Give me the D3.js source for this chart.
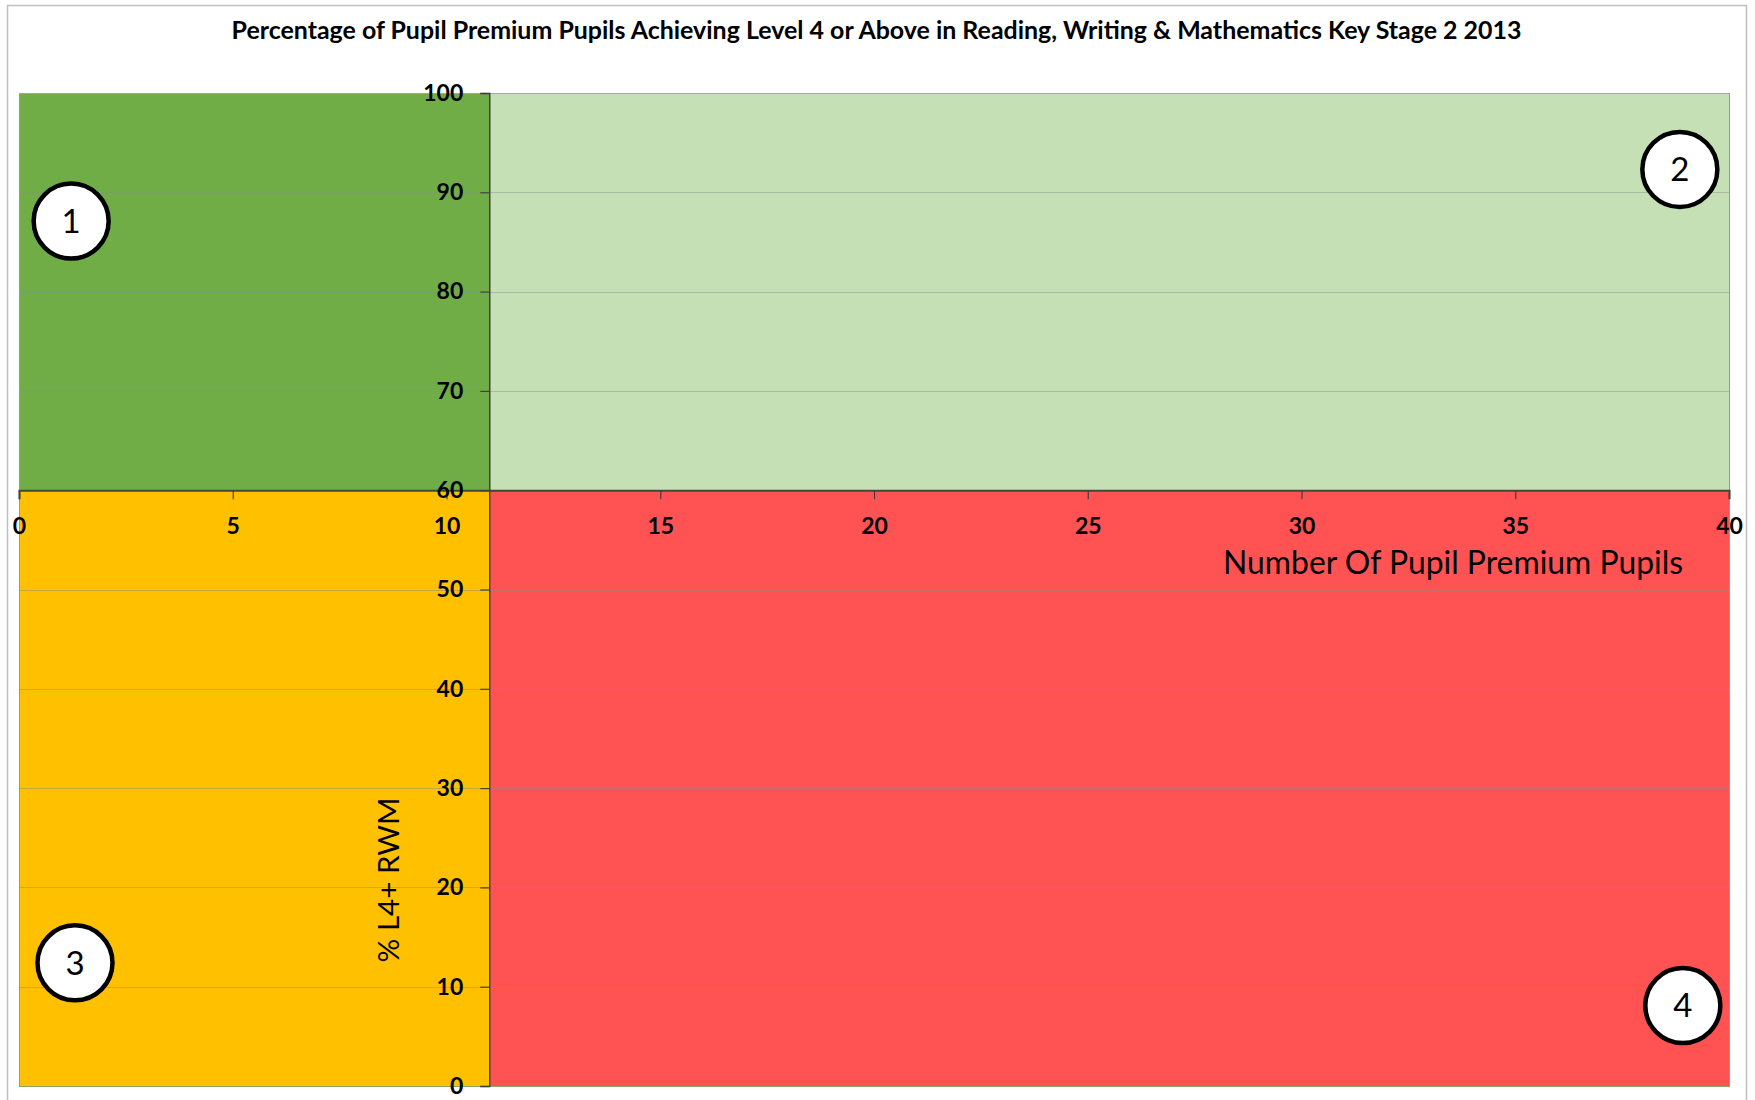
<!DOCTYPE html>
<html>
<head>
<meta charset="utf-8">
<script src="https://cdnjs.cloudflare.com/ajax/libs/d3/7.8.5/d3.min.js"></script>
<style>
  html, body { margin: 0; padding: 0; background: #ffffff; }
  svg { display: block; }
</style>
</head>
<body>
<svg id="chart" width="1755" height="1100"></svg>
<script>
// ---------- data ----------
const chartTitle = "Percentage of Pupil Premium Pupils Achieving Level 4 or Above in Reading, Writing & Mathematics Key Stage 2 2013";
const xAxisTitle = "Number Of Pupil Premium Pupils";
const yAxisTitle = "% L4+ RWM";

const xDomain = [0, 40];
const yDomain = [0, 100];
const xTicks = [0, 5, 10, 15, 20, 25, 30, 35, 40];
const yTicks = [0, 10, 20, 30, 40, 50, 60, 70, 80, 90, 100];
const xAxisCrossesAt = 60;   // horizontal axis crosses the vertical axis at y = 60
const yAxisCrossesAt = 11;   // vertical axis crosses at x = 11

// quadrant regions (data units)
const quadrantIds = ["1", "2", "3", "4"];
const quadrantX0 = [0, 11, 0, 11];
const quadrantX1 = [11, 40, 11, 40];
const quadrantY0 = [60, 60, 0, 0];
const quadrantY1 = [100, 100, 60, 60];
const quadrantColors = ["#70AD47", "#C5E0B4", "#FFC000", "#FF5353"];

// numbered circle markers (data units)
const markerLabels = ["1", "2", "3", "4"];
const markerX = [1.22, 38.85, 1.31, 38.92];
const markerY = [87.1, 92.3, 12.4, 8.1];

// ---------- layout ----------
const W = 1755, H = 1100;
const plot = { left: 19, right: 1729, top: 93, bottom: 1086 };
const FONT = "Lato, 'Open Sans', 'Liberation Sans', sans-serif";

const svg = d3.select("#chart");
svg.append("rect").attr("x", 0).attr("y", 0).attr("width", W).attr("height", H).attr("fill", "#ffffff");

// outer chart border
svg.append("rect")
  .attr("x", 7.5).attr("y", 5.5).attr("width", 1739).attr("height", 1110)
  .attr("fill", "none").attr("stroke", "#bfbfbf").attr("stroke-width", 1.5);

const x = d3.scaleLinear().domain(xDomain).range([plot.left, plot.right]);
const y = d3.scaleLinear().domain(yDomain).range([plot.bottom, plot.top]);

// quadrants
const quads = quadrantIds.map((id, i) => ({
  id, x0: quadrantX0[i], x1: quadrantX1[i], y0: quadrantY0[i], y1: quadrantY1[i], c: quadrantColors[i]
}));
svg.append("g").selectAll("rect").data(quads).join("rect")
  .attr("x", d => x(d.x0))
  .attr("y", d => y(d.y1))
  .attr("width", d => x(d.x1) - x(d.x0))
  .attr("height", d => y(d.y0) - y(d.y1))
  .attr("fill", d => d.c);

// horizontal gridlines
svg.append("g").selectAll("line").data(yTicks).join("line")
  .attr("x1", plot.left).attr("x2", plot.right)
  .attr("y1", d => Math.round(y(d)) + 0.5).attr("y2", d => Math.round(y(d)) + 0.5)
  .attr("stroke", "#8c8c8c").attr("stroke-opacity", 0.45).attr("stroke-width", 1);

// plot area border
svg.append("rect")
  .attr("x", plot.left + 0.5).attr("y", plot.top + 0.5)
  .attr("width", plot.right - plot.left).attr("height", plot.bottom - plot.top)
  .attr("fill", "none").attr("stroke", "#86a86c").attr("stroke-width", 1);
svg.append("line")
  .attr("x1", plot.left).attr("x2", plot.right)
  .attr("y1", plot.top + 0.5).attr("y2", plot.top + 0.5)
  .attr("stroke", "#a6a6a6").attr("stroke-width", 1.2);

// x axis (crossing at y = 60)
const xAxis = d3.axisBottom(x).tickValues(xTicks).tickSize(9).tickPadding(18).tickFormat(d3.format("d"));
const gx = svg.append("g")
  .attr("transform", `translate(0,${y(xAxisCrossesAt)})`)
  .call(xAxis);
gx.select(".domain").attr("stroke", "#3f4a38").attr("stroke-width", 2);
gx.selectAll(".tick line").attr("stroke", "#404040").attr("stroke-width", 1.2);
gx.selectAll(".tick text")
  .attr("font-family", FONT).attr("font-weight", "bold").attr("font-size", 23).attr("fill", "#000");

// y axis (crossing at x = 11)
const yAxis = d3.axisLeft(y).tickValues(yTicks).tickSize(9).tickPadding(17).tickFormat(d3.format("d"));
const gy = svg.append("g")
  .attr("transform", `translate(${x(yAxisCrossesAt)},0)`)
  .call(yAxis);
gy.select(".domain").attr("stroke", "#404040").attr("stroke-width", 1.5);
gy.selectAll(".tick line").attr("stroke", "#404040").attr("stroke-width", 1.2);
gy.selectAll(".tick text")
  .attr("font-family", FONT).attr("font-weight", "bold").attr("font-size", 23).attr("fill", "#000");

// helper: fit text to a target width by adjusting font size
function fitText(sel, targetWidth) {
  const fs = parseFloat(sel.attr("font-size"));
  const w = sel.node().getComputedTextLength();
  if (w > 0) sel.attr("font-size", (fs * targetWidth / w).toFixed(2));
}

// title
const title = svg.append("text")
  .attr("x", 876.5).attr("y", 39)
  .attr("text-anchor", "middle")
  .attr("font-family", FONT).attr("font-weight", "bold").attr("font-size", 19)
  .attr("fill", "#000")
  .text(chartTitle);
fitText(title, 1290);

// x-axis title
const xt = svg.append("text")
  .attr("x", 1683).attr("y", 574)
  .attr("text-anchor", "end")
  .attr("font-family", FONT).attr("font-size", 30).attr("fill", "#000")
  .text(xAxisTitle);
fitText(xt, 460);

// y-axis title
const yt = svg.append("text")
  .attr("transform", `translate(399,880) rotate(-90)`)
  .attr("text-anchor", "middle")
  .attr("font-family", FONT).attr("font-size", 30).attr("fill", "#000")
  .text(yAxisTitle);
fitText(yt, 165);

// numbered circles
const markers = markerLabels.map((l, i) => ({ l, mx: markerX[i], my: markerY[i] }));
const mg = svg.append("g").selectAll("g").data(markers).join("g")
  .attr("transform", d => `translate(${x(d.mx)},${y(d.my)})`);
mg.append("circle")
  .attr("r", 37.5).attr("fill", "#ffffff").attr("stroke", "#000").attr("stroke-width", 4.5);
mg.append("text")
  .attr("text-anchor", "middle").attr("dy", "0.36em")
  .attr("font-family", FONT).attr("font-size", 33).attr("fill", "#000")
  .text(d => d.l);
</script>
</body>
</html>
